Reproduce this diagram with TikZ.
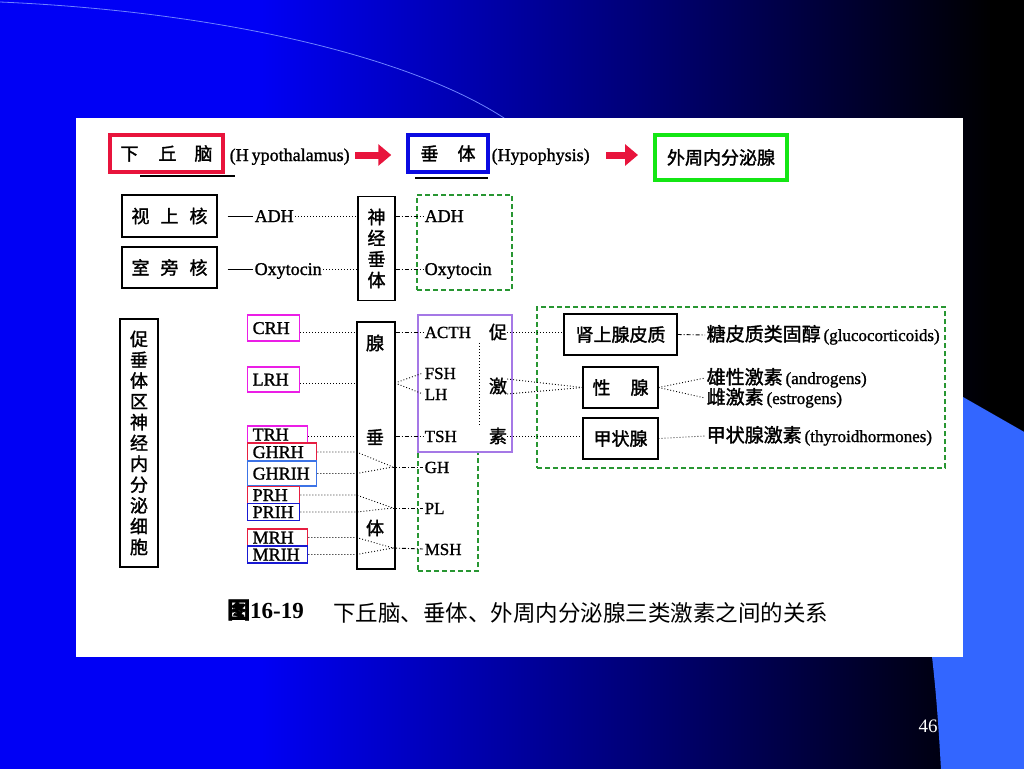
\documentclass[tikz,border=0pt]{standalone}
\usepackage{fontspec}
\setmainfont{Liberation Serif}
\newfontfamily\latb[FakeBold=1.2]{Liberation Serif}
\newfontfamily\cjk{Noto Sans CJK SC}
\newfontfamily\cjkb[FakeBold=1.6]{Noto Sans CJK SC}
\usetikzlibrary{positioning,arrows.meta}

\definecolor{slideblue}{RGB}{0,0,245}
\definecolor{slidemid}{RGB}{0,0,150}
\definecolor{cornerblue}{RGB}{51,102,255}
\definecolor{arcblue}{RGB}{110,130,255}
\definecolor{hypored}{RGB}{232,20,60}
\definecolor{pitblue}{RGB}{10,10,225}
\definecolor{glandgreen}{RGB}{20,230,20}
\definecolor{grpgreen}{RGB}{40,150,50}
\definecolor{rhmag}{RGB}{235,30,230}
\definecolor{rhred}{RGB}{230,30,65}
\definecolor{rhsky}{RGB}{60,115,230}
\definecolor{rhblue}{RGB}{25,25,210}
\definecolor{tropviolet}{RGB}{165,120,230}

\newcommand{\zhb}[1]{{\cjkb\fontsize{19}{21}\selectfont #1}}

\begin{document}
\begin{tikzpicture}[x=1pt,y=-1pt,
        tbox/.style={draw, line width=3.5pt, inner sep=0pt, font=\cjkb\fontsize{18}{20}\selectfont},
        gbox/.style={draw, line width=1.1pt, inner sep=0pt, font=\cjkb\fontsize{18}{20}\selectfont},
        vbox/.style={gbox, align=center},
        zh/.style={inner sep=0pt, font=\cjkb\fontsize{18}{20}\selectfont},
        lat/.style={inner xsep=1.5pt, inner ysep=0pt, anchor=west, text height=12pt, text depth=0pt, font=\latb\fontsize{18}{20}\selectfont},
        hm/.style={lat, font=\latb\fontsize{17}{20}\selectfont},
        rh/.style={draw, line width=1.4pt, anchor=west, inner xsep=5pt, inner ysep=0pt, align=left, text height=12pt, text depth=0pt, font=\latb\fontsize{18}{20}\selectfont},
        grp/.style={draw=grpgreen, line width=1.2pt, dash pattern=on 5pt off 3pt, inner sep=0pt},
        dotlink/.style={line width=0.9pt, dash pattern=on 0.9pt off 2.1pt},
        ddlink/.style={line width=0.9pt, dash pattern=on 4pt off 2pt on 1pt off 2pt},
        solidlink/.style={line width=1pt},
        bigarrow/.style={hypored, line width=7pt, -{Triangle[length=13pt,width=21pt]}}
    ]

    % slide background
    \useasboundingbox (0,0) rectangle (1024,768);
    \fill[slideblue] (-2,-2) rectangle (262,770);
    \shade[left color=slideblue, middle color=slidemid, right color=black] (258,-4) rectangle (994,772);
    \fill[black] (990,-2) rectangle (1026,770);
    \draw[arcblue, line width=0.8pt] (0,2) .. controls (230,12) and (420,60) .. (510,122);
    \fill[cornerblue] (935,381) -- (1026,433) -- (1026,770) -- (941,770) .. controls (938,715) and (935,680) .. (930,640) -- cycle;
    \fill[white] (76,118) rectangle (963,657);
    \node[text=white, font=\fontsize{19}{20}\selectfont, inner sep=0pt] (pageno) at (928,726) {46};

    % header row
    \node[tbox, draw=hypored, minimum width=113pt, minimum height=37pt] (hypo) at (166.5,153.5) {下\hspace{20pt}丘\hspace{18pt}脑};
    \node[lat] (hyponame) at (228,155) {(H\,ypothalamus)};
    \node[tbox, draw=pitblue, minimum width=80pt, minimum height=37pt] (pit) at (448,153.5) {垂\hspace{19pt}体};
    \node[lat] (pitname) at (490,155) {(Hypophysis)};
    \node[tbox, draw=glandgreen, line width=4pt, minimum width=132pt, minimum height=45pt] (gland) at (721,157.5) {外周内分泌腺};
    \draw[bigarrow] ([xshift=4pt]hyponame.east) -- ([xshift=-15pt]hyponame.east -| pit.west);
    \draw[bigarrow] ([xshift=15pt]pitname.east) -- ([xshift=-15pt]pitname.east -| gland.west);
    \draw[line width=1.2pt] (140,176) -- (235,176);
    \draw[line width=1.2pt] (415,178) -- (488,178);

    % posterior lobe
    \node[gbox, minimum width=95pt, minimum height=42pt] (so) at (169.5,216) {视\hspace{11pt}上\hspace{11pt}核};
    \node[gbox, minimum width=95pt, minimum height=41pt] (pv) at (169.5,267.5) {室\hspace{11pt}旁\hspace{11pt}核};
    \node[lat] (adhA) at (253,216) {ADH};
    \node[lat] (oxyA) at (253,269) {Oxytocin};
    \node[vbox, minimum width=37pt, minimum height=104pt, font=\cjkb\fontsize{18}{21}\selectfont] (neuro) at (376.5,248.5) {神\\经\\垂\\体};
    \node[grp, minimum width=95pt, minimum height=95pt] (post) at (464.5,242.5) {};
    \node[lat] (adhB) at (423,216) {ADH};
    \node[lat] (oxyB) at (423,269) {Oxytocin};

    \draw[solidlink] ([xshift=10pt]adhA.west -| so.east) -- (adhA.west);
    \draw[solidlink] ([xshift=10pt]oxyA.west -| pv.east) -- (oxyA.west);
    \draw[dotlink] (adhA.east) -- (adhA.east -| neuro.west);
    \draw[dotlink] (oxyA.east) -- (oxyA.east -| neuro.west);
    \draw[ddlink] (adhB.west -| neuro.east) -- (adhB.west);
    \draw[ddlink] (oxyB.west -| neuro.east) -- (oxyB.west);

    % anterior lobe
    \node[vbox, minimum width=38pt, minimum height=248pt, font=\cjkb\fontsize{18}{20.8}\selectfont] (hpz) at (139,443) {促\\垂\\体\\区\\神\\经\\内\\分\\泌\\细\\胞};

    \node[rh, draw=rhmag, text width=42pt, minimum height=26pt] (crh) at (247,328) {CRH};
    \node[rh, draw=rhmag, text width=42pt, minimum height=25pt] (lrh) at (247,379.5) {LRH};
    \node[rh, draw=rhmag, text width=50pt, minimum height=17pt] (trh) at (247,434.5) {TRH};
    \node[rh, draw=rhred, text width=59pt, minimum height=18pt] (ghrh) at (247,452) {GHRH};
    \node[rh, draw=rhsky, text width=59pt, minimum height=25pt] (ghrih) at (247,473.5) {GHRIH};
    \node[rh, draw=rhred, text width=42pt, minimum height=17pt] (prh) at (247,495) {PRH};
    \node[rh, draw=rhblue, text width=42pt, minimum height=17pt] (prih) at (247,512) {PRIH};
    \node[rh, draw=rhred, text width=50pt, minimum height=17pt] (mrh) at (247,537.5) {MRH};
    \node[rh, draw=rhblue, text width=50pt, minimum height=17pt] (mrih) at (247,554.5) {MRIH};

    \node[gbox, minimum width=38pt, minimum height=247pt] (adeno) at (376,445.5) {};
    \node[zh] (adeno1) at (375,343) {腺};
    \node[zh] (adeno2) at (375,437) {垂};
    \node[zh] (adeno3) at (375,528) {体};

    \node[grp, minimum width=60pt, minimum height=119pt] (others) at (448,511.5) {};
    \node[draw=tropviolet, line width=1.1pt, inner sep=0pt, minimum width=94pt, minimum height=137pt] (trop) at (465,383.5) {};

    \node[hm] (acth) at (423,332) {ACTH};
    \node[hm] (fsh) at (423,373) {FSH};
    \node[hm] (lh) at (423,394) {LH};
    \node[hm] (tsh) at (423,436) {TSH};
    \node[hm] (gh) at (423,467) {GH};
    \node[hm] (pl) at (423,508) {PL};
    \node[hm] (msh) at (423,549) {MSH};

    \node[zh] (cu) at (498,332) {促};
    \node[zh] (ji) at (498,386) {激};
    \node[zh] (su) at (498,436) {素};
    \coordinate (vtop) at (479,343);
    \coordinate (vbot) at (479,425);
    \draw[dotlink] (vtop) -- (vbot);

    \coordinate (fj) at (395,383);
    \coordinate (ghj) at (393,467);
    \coordinate (plj) at (393,508);
    \coordinate (mshj) at (393,548);

    \draw[dotlink] (crh.east |- acth.west) -- (acth.west -| adeno.west);
    \draw[ddlink] (acth.west -| adeno.east) -- (acth.west);
    \draw[dotlink] (lrh.east |- fj) -- (fj -| adeno.west);
    \draw[dotlink] (fj) -- (fsh.west);
    \draw[dotlink] (fj) -- (lh.west);
    \draw[dotlink] (trh.east |- tsh.west) -- (tsh.west -| adeno.west);
    \draw[ddlink] (tsh.west -| adeno.east) -- (tsh.west);
    \draw[dotlink] (ghrh.east) -- (ghrh.east -| adeno.west) -- (ghj);
    \draw[dotlink] (ghrih.east) -- (ghrih.east -| adeno.west) -- (ghj);
    \draw[ddlink] (ghj) -- (gh.west);
    \draw[dotlink] (prh.east) -- (prh.east -| adeno.west) -- (plj);
    \draw[dotlink] (prih.east) -- (prih.east -| adeno.west) -- (plj);
    \draw[ddlink] (plj) -- (pl.west);
    \draw[dotlink] (mrh.east) -- (mrh.east -| adeno.west) -- (mshj);
    \draw[dotlink] (mrih.east) -- (mrih.east -| adeno.west) -- (mshj);
    \draw[ddlink] (mshj) -- (msh.west);

    % target glands
    \node[grp, minimum width=408pt, minimum height=161pt] (targets) at (741,387.5) {};
    \node[gbox, minimum width=113pt, minimum height=41pt] (adrenal) at (620.5,334.5) {肾上腺皮质};
    \node[gbox, minimum width=75pt, minimum height=41pt] (gonad) at (620.5,387.5) {性\hspace{20pt}腺};
    \node[gbox, minimum width=75pt, minimum height=41pt] (thyroid) at (620.5,438.5) {甲状腺};

    \node[lat, font=\latb\fontsize{17}{20}\selectfont] (gluco) at (705,335) {\zhb{糖皮质类固醇}\,(glucocorticoids)};
    \node[lat, font=\latb\fontsize{17}{20}\selectfont] (andro) at (705,378) {\zhb{雄性激素}\,(androgens)};
    \node[lat, font=\latb\fontsize{17}{20}\selectfont] (estro) at (705,398) {\zhb{雌激素}\,(estrogens)};
    \node[lat, font=\latb\fontsize{17}{20}\selectfont] (thyro) at (705,436) {\zhb{甲状腺激素}\,(thyroidhormones)};

    \draw[dotlink] (cu.east) -- (cu.east -| adrenal.west);
    \draw[dotlink] ([yshift=7pt]ji.east) -- (gonad.west);
    \draw[dotlink] ([yshift=-8pt]ji.east) -- (gonad.west);
    \draw[dotlink] (su.east) -- (su.east -| thyroid.west);
    \draw[ddlink] (adrenal.east) -- (gluco.west);
    \draw[dotlink] (gonad.east) -- (andro.west);
    \draw[dotlink] (gonad.east) -- (estro.west);
    \draw[dotlink] (thyroid.east) -- (thyro.west);

    % caption
    \node[anchor=west, inner sep=0pt, font=\fontsize{23}{24}\selectfont\bfseries] (fignum) at (227,610) {{\cjkb 图}16-19};
    \node[anchor=west, inner sep=0pt, font=\cjk\fontsize{22.5}{24}\selectfont] (figtitle) at (333,613) {下丘脑、垂体、外周内分泌腺三类激素之间的关系};

\end{tikzpicture}
\end{document}
